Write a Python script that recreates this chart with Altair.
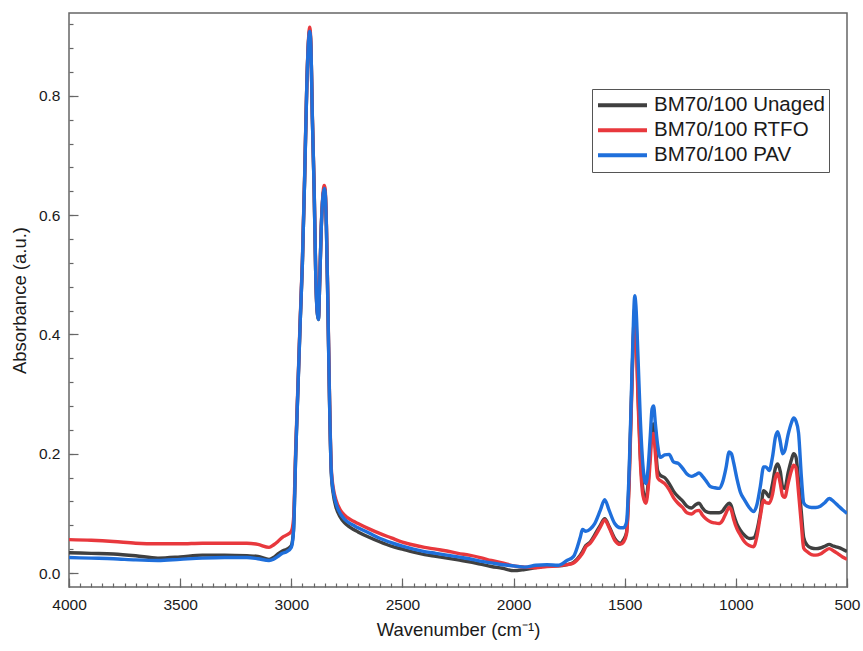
import altair as alt
import pandas as pd

# FTIR spectra of BM70/100 binder: unaged, after RTFO and after PAV ageing
wavenumber = [
    4000, 3900, 3800, 3700, 3600, 3500, 3400, 3300, 3200, 3150, 3100, 3080, 3060, 3040, 3020,
    3000, 2990, 2980, 2970, 2960, 2950, 2940, 2930, 2922, 2917, 2912, 2905, 2897, 2890, 2884,
    2878, 2872, 2865, 2858, 2852, 2848, 2842, 2835, 2828, 2820, 2810, 2800, 2780, 2760, 2740,
    2720, 2700, 2650, 2600, 2550, 2500, 2450, 2400, 2350, 2300, 2250, 2200, 2150, 2100, 2050,
    2000, 1950, 1900, 1850, 1800, 1760, 1730, 1700, 1690, 1675, 1655, 1635, 1610, 1590, 1570,
    1545, 1520, 1505, 1492, 1480, 1470, 1460, 1455, 1450, 1440, 1430, 1418, 1405, 1395, 1385,
    1377, 1370, 1362, 1352, 1340, 1320, 1300, 1280, 1260, 1240, 1220, 1200, 1180, 1165, 1150,
    1135, 1115, 1095, 1075, 1060, 1045, 1030, 1020, 1010, 995, 980, 960, 940, 920, 905,
    890, 875, 865, 850, 835, 822, 812, 800, 790, 780, 765, 750, 740, 730, 718,
    705, 695, 680, 660, 640, 620, 600, 580, 560, 540, 520, 500,
]

unaged = [
    0.034, 0.033, 0.032, 0.029, 0.025, 0.027, 0.030, 0.030, 0.029, 0.028, 0.023, 0.026, 0.032, 0.037, 0.040,
    0.046, 0.072, 0.200, 0.310, 0.420, 0.520, 0.660, 0.820, 0.895, 0.910, 0.886, 0.760, 0.640, 0.500, 0.440,
    0.425, 0.490, 0.580, 0.630, 0.645, 0.640, 0.580, 0.440, 0.290, 0.168, 0.130, 0.112, 0.094, 0.084, 0.078,
    0.073, 0.069, 0.060, 0.052, 0.045, 0.040, 0.035, 0.031, 0.028, 0.025, 0.022, 0.019, 0.015, 0.011, 0.008,
    0.004, 0.006, 0.009, 0.012, 0.012, 0.014, 0.018, 0.030, 0.036, 0.046, 0.052, 0.064, 0.080, 0.091, 0.078,
    0.058, 0.050, 0.056, 0.068, 0.161, 0.290, 0.410, 0.445, 0.430, 0.300, 0.200, 0.140, 0.122, 0.150, 0.205,
    0.245, 0.250, 0.215, 0.172, 0.164, 0.160, 0.150, 0.137, 0.128, 0.121, 0.112, 0.109, 0.115, 0.117, 0.109,
    0.103, 0.101, 0.101, 0.101, 0.104, 0.112, 0.117, 0.112, 0.098, 0.082, 0.072, 0.063, 0.058, 0.059, 0.072,
    0.100, 0.138, 0.135, 0.128, 0.150, 0.176, 0.183, 0.170, 0.145, 0.142, 0.168, 0.190, 0.200, 0.195, 0.155,
    0.100, 0.060, 0.047, 0.042, 0.041, 0.042, 0.045, 0.048, 0.045, 0.043, 0.040, 0.036,
]

rtfo = [
    0.056, 0.055, 0.053, 0.050, 0.049, 0.049, 0.050, 0.050, 0.050, 0.048, 0.043, 0.047, 0.053, 0.060, 0.064,
    0.070, 0.090, 0.210, 0.315, 0.425, 0.525, 0.665, 0.822, 0.898, 0.915, 0.890, 0.762, 0.642, 0.503, 0.442,
    0.428, 0.492, 0.582, 0.633, 0.650, 0.645, 0.585, 0.445, 0.295, 0.175, 0.140, 0.124, 0.106, 0.097, 0.091,
    0.087, 0.083, 0.074, 0.066, 0.059, 0.052, 0.047, 0.043, 0.040, 0.037, 0.033, 0.030, 0.026, 0.021, 0.017,
    0.012, 0.010, 0.009, 0.011, 0.012, 0.014, 0.017, 0.028, 0.033, 0.044, 0.050, 0.061, 0.077, 0.089, 0.076,
    0.055, 0.048, 0.052, 0.065, 0.150, 0.280, 0.400, 0.420, 0.405, 0.290, 0.190, 0.130, 0.117, 0.140, 0.190,
    0.232, 0.234, 0.200, 0.160, 0.155, 0.150, 0.140, 0.126, 0.117, 0.110, 0.101, 0.099, 0.104, 0.105, 0.097,
    0.091, 0.086, 0.084, 0.083, 0.088, 0.100, 0.110, 0.105, 0.090, 0.074, 0.064, 0.052, 0.046, 0.044, 0.062,
    0.095, 0.122, 0.118, 0.117, 0.132, 0.160, 0.167, 0.150, 0.130, 0.127, 0.150, 0.172, 0.181, 0.177, 0.135,
    0.080, 0.042, 0.036, 0.031, 0.030, 0.032, 0.037, 0.041, 0.037, 0.032, 0.027, 0.023,
]

pav = [
    0.026, 0.025, 0.024, 0.022, 0.021, 0.023, 0.025, 0.026, 0.026, 0.024, 0.021, 0.023, 0.028, 0.033, 0.036,
    0.043, 0.070, 0.200, 0.310, 0.420, 0.520, 0.660, 0.820, 0.893, 0.908, 0.885, 0.760, 0.640, 0.500, 0.440,
    0.425, 0.490, 0.580, 0.630, 0.645, 0.640, 0.580, 0.440, 0.290, 0.170, 0.135, 0.118, 0.100, 0.090, 0.084,
    0.080, 0.076, 0.067, 0.058, 0.051, 0.045, 0.040, 0.036, 0.033, 0.030, 0.027, 0.024, 0.020, 0.017, 0.014,
    0.012, 0.010, 0.013, 0.014, 0.013, 0.021, 0.028, 0.060, 0.073, 0.070, 0.074, 0.083, 0.105, 0.123, 0.105,
    0.083, 0.076, 0.076, 0.085, 0.172, 0.300, 0.430, 0.465, 0.450, 0.360, 0.260, 0.180, 0.150, 0.175, 0.230,
    0.275, 0.280, 0.250, 0.215, 0.194, 0.198, 0.199, 0.186, 0.184, 0.176, 0.166, 0.162, 0.165, 0.168, 0.162,
    0.155, 0.145, 0.143, 0.142, 0.152, 0.175, 0.203, 0.200, 0.185, 0.158, 0.136, 0.122, 0.110, 0.103, 0.115,
    0.145, 0.178, 0.178, 0.172, 0.195, 0.228, 0.237, 0.220, 0.200, 0.205, 0.232, 0.252, 0.260, 0.255, 0.235,
    0.160, 0.118, 0.112, 0.110, 0.110, 0.112, 0.118, 0.125, 0.120, 0.113, 0.106, 0.100,
]

series_names = ["BM70/100 Unaged", "BM70/100 RTFO", "BM70/100 PAV"]
series_colors = ["#404040", "#e8383d", "#1f6fdb"]

rows = []
for name, values in zip(series_names, [unaged, rtfo, pav]):
    for w, a in zip(wavenumber, values):
        rows.append({"wavenumber": w, "absorbance": a, "sample": name})
df = pd.DataFrame(rows)

W, H = 778, 574
FONT = "Liberation Sans"
FRAME = "#666666"
TEXT = "#1a1a1a"

x_scale = alt.Scale(domain=[500, 4000], reverse=True, nice=False, zero=False)
y_scale = alt.Scale(domain=[-0.0234, 0.939], nice=False, zero=False)
color_scale = alt.Scale(domain=series_names, range=series_colors)

x_major = list(range(500, 4001, 500))
x_minor = list(range(500, 4001, 50))
y_major = [0.0, 0.2, 0.4, 0.6, 0.8]
y_minor = [round(0.04 * i, 2) for i in range(0, 24)]

base = alt.Chart(df)

x_label_axis = alt.Axis(
    orient="bottom", values=x_major, format="d", ticks=False, tickSize=0, domain=False, grid=False,
    labelFont=FONT, labelFontSize=15.5, labelColor=TEXT, labelPadding=10, labelFlush=False,
    labelOverlap=False, title="Wavenumber (cm⁻¹)", titleFont=FONT, titleFontSize=18.5,
    titleFontWeight="normal", titleColor=TEXT, titlePadding=8,
)
y_label_axis = alt.Axis(
    orient="left", values=y_major, format=".1f", ticks=False, tickSize=0, domain=False, grid=False,
    labelFont=FONT, labelFontSize=15.5, labelColor=TEXT, labelPadding=9, labelFlush=False,
    labelOverlap=False, title="Absorbance (a.u.)", titleFont=FONT, titleFontSize=18.5,
    titleFontWeight="normal", titleColor=TEXT, titlePadding=9,
)

legend = alt.Legend(
    title=None, orient="none", legendX=523, legendY=76, direction="vertical",
    symbolType="stroke", symbolSize=2400, symbolStrokeWidth=4, clipHeight=24.5, rowPadding=0,
    labelFont=FONT, labelFontSize=20.5, labelColor=TEXT, labelOffset=5, labelLimit=400,
    padding=4, strokeColor="#555555", fillColor="white",
)

# one layer per sample so the drawing order is fixed (PAV on top)
line_layers = []
for name in series_names:
    line_layers.append(
        base.transform_filter(alt.datum.sample == name)
        .mark_line(strokeWidth=3.4, interpolate="monotone", clip=True)
        .encode(
            x=alt.X("wavenumber:Q", scale=x_scale, axis=x_label_axis),
            y=alt.Y("absorbance:Q", scale=y_scale, axis=y_label_axis),
            color=alt.Color("sample:N", scale=color_scale, legend=legend),
        )
    )
lines = alt.layer(*line_layers)


def tick_layer(x_values, y_values, size):
    # invisible marks that only carry inward-pointing tick axes
    return base.mark_point(opacity=0).encode(
        x=alt.X("wavenumber:Q", scale=x_scale, axis=alt.Axis(
            orient="top", offset=-H, values=x_values, labels=False, domain=False, grid=False,
            title=None, tickSize=size, tickColor=FRAME, tickWidth=1.2)),
        y=alt.Y("absorbance:Q", scale=y_scale, axis=alt.Axis(
            orient="right", offset=-W, values=y_values, labels=False, domain=False, grid=False,
            title=None, tickSize=size, tickColor=FRAME, tickWidth=1.2)),
    )


chart = (
    alt.layer(lines, tick_layer(x_minor, y_minor, 4), tick_layer(x_major, y_major, 9))
    .resolve_scale(x="shared", y="shared")
    .resolve_axis(x="independent", y="independent")
    .properties(
        width=W, height=H,
        padding={"left": 69, "top": 13, "right": 16, "bottom": 64},
        autosize=alt.AutoSizeParams(type="none"),
        background="white",
    )
    .configure_view(stroke=FRAME, strokeWidth=1.5)
)

chart.save("out.html", embed_options={"renderer": "svg", "actions": False})
